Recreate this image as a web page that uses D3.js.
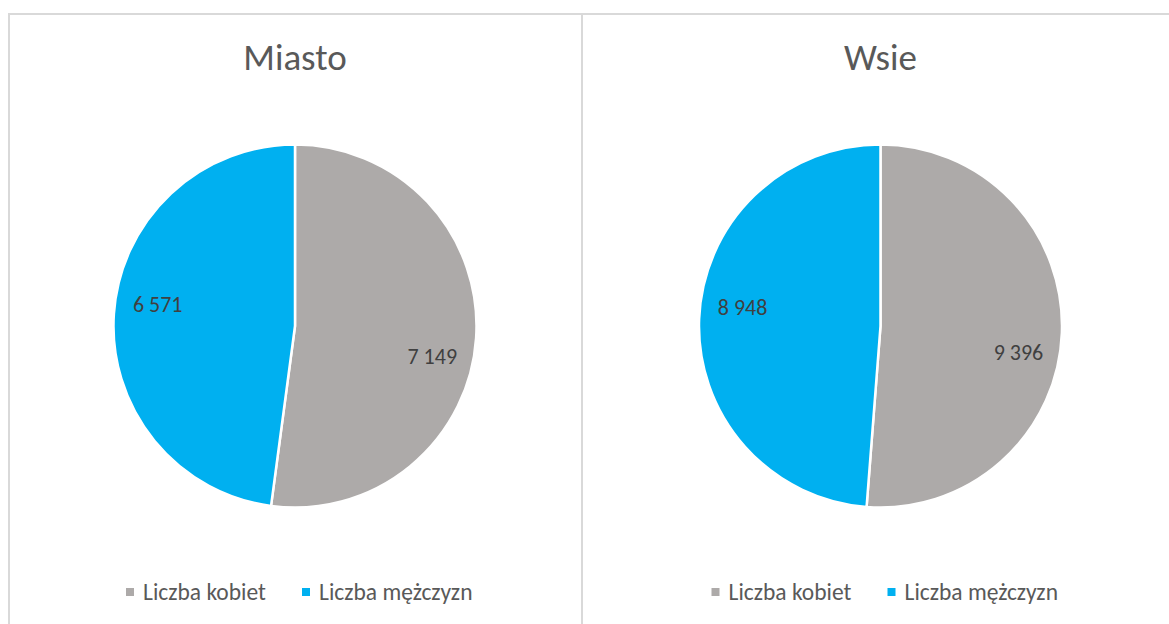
<!DOCTYPE html>
<html><head><meta charset="utf-8">
<script src="https://cdn.jsdelivr.net/npm/d3@7"></script>
<style>body{margin:0;background:#fff;}svg{display:block;font-family:Carlito,Calibri,Lato,"Open Sans",sans-serif;}</style>
</head><body><svg id="c" width="1169" height="624"></svg>
<script>
const categories = ["Liczba kobiet", "Liczba mężczyzn"];
const panelTitles = ["Miasto", "Wsie"];
const miastoValues = [7149, 6571];
const wsieValues = [9396, 8948];
const colors = ["#ADAAA9", "#00B0F0"];

const svg = d3.select("#c");
const fmt = v => d3.format(",")(v).replace(/,/g, " ");

const panels = [
  {title: panelTitles[0], values: miastoValues, cx: 295},
  {title: panelTitles[1], values: wsieValues, cx: 880.5}
];

// borders
svg.append("line").attr("x1", 8).attr("x2", 1169).attr("y1", 14).attr("y2", 14).attr("stroke", "#d9d9d9").attr("stroke-width", 2);
svg.append("line").attr("x1", 9).attr("x2", 9).attr("y1", 13).attr("y2", 624).attr("stroke", "#d9d9d9").attr("stroke-width", 2);
svg.append("line").attr("x1", 582).attr("x2", 582).attr("y1", 13).attr("y2", 624).attr("stroke", "#d9d9d9").attr("stroke-width", 2);

const r = 181.5;
const pie = d3.pie().sort(null).value(d => d);
const arc = d3.arc().innerRadius(0).outerRadius(r);
const labelShift = 7 * Math.PI / 180;

panels.forEach(p => {
  const cx = p.cx, cy = 326;
  const g = svg.append("g");
  g.append("text").attr("x", cx).attr("y", 70).attr("text-anchor", "middle")
    .attr("font-size", 37).attr("fill", "#595959").text(p.title);
  const pg = g.append("g").attr("transform", `translate(${cx},${cy})`);
  const arcs = pie(p.values);
  pg.selectAll("path").data(arcs).join("path")
    .attr("d", arc).attr("fill", (d, i) => colors[i])
    .attr("stroke", "#fff").attr("stroke-width", 2.5).attr("stroke-linejoin", "round");
  pg.selectAll("text.lbl").data(arcs).join("text").attr("class", "lbl")
    .attr("x", d => { const a = (d.startAngle + d.endAngle) / 2 + labelShift; return Math.sin(a) * r * 0.77; })
    .attr("y", d => { const a = (d.startAngle + d.endAngle) / 2 + labelShift; return -Math.cos(a) * r * 0.77 + 4; })
    .attr("dy", "0.35em").attr("text-anchor", "middle")
    .attr("font-size", 22).attr("fill", "#404040").text(d => fmt(d.data));
  // legend
  const lg = g.append("g").attr("transform", `translate(${cx - 169},592)`);
  const offs = [0, 176];
  categories.forEach((c, i) => {
    lg.append("rect").attr("x", offs[i]).attr("y", -4).attr("width", 8).attr("height", 8).attr("fill", colors[i]);
    lg.append("text").attr("x", offs[i] + 17).attr("y", 0).attr("dy", "0.35em")
      .attr("font-size", 23.5).attr("fill", "#595959").text(c);
  });
});
</script></body></html>
